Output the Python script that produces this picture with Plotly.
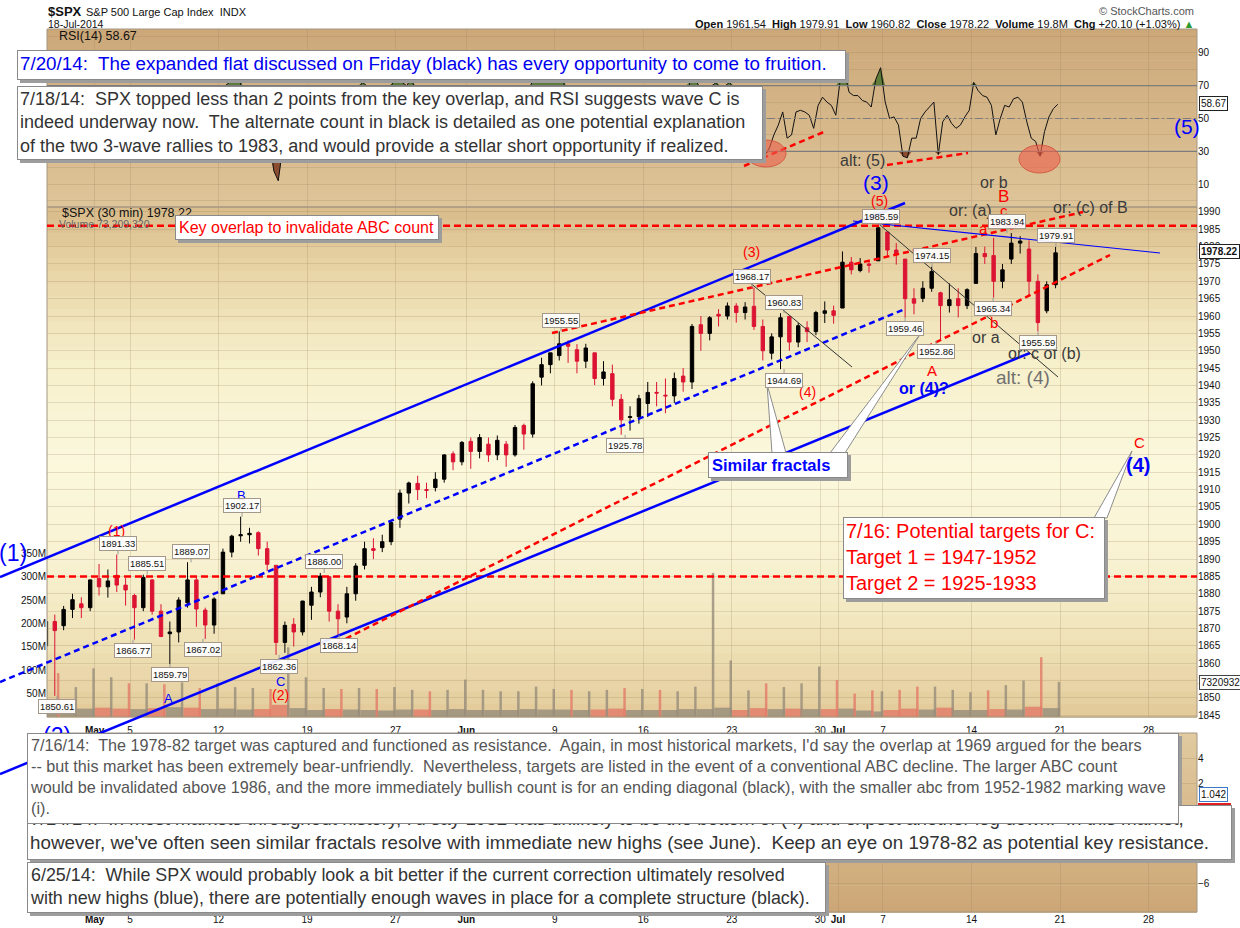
import plotly.graph_objects as go

FONT = "Liberation Sans, Arial, sans-serif"
BLUE = "#0000ff"
RED = "#ff0000"
UP = "#000000"
DOWN = "#dc1433"
GRID = "rgba(150,125,85,0.22)"

# trading sessions on the chart (2014); Jul 3 was a half session
days = ["04-28", "04-29", "04-30", "05-01", "05-02",
        "05-05", "05-06", "05-07", "05-08", "05-09",
        "05-12", "05-13", "05-14", "05-15", "05-16",
        "05-19", "05-20", "05-21", "05-22", "05-23",
        "05-27", "05-28", "05-29", "05-30",
        "06-02", "06-03", "06-04", "06-05", "06-06",
        "06-09", "06-10", "06-11", "06-12", "06-13",
        "06-16", "06-17", "06-18", "06-19", "06-20",
        "06-23", "06-24", "06-25", "06-26", "06-27",
        "06-30", "07-01", "07-02", "07-03",
        "07-07", "07-08", "07-09", "07-10", "07-11",
        "07-14", "07-15", "07-16", "07-17", "07-18"]
future_days = ["07-21", "07-22", "07-23", "07-24", "07-25",
               "07-28", "07-29", "07-30", "07-31"]
half_days = ["07-03"]

tick_days = ["05-01", "05-05", "05-12", "05-19", "05-27", "06-02", "06-09", "06-16",
             "06-23", "06-30", "07-01", "07-07", "07-14", "07-21", "07-28"]
tick_text = ["<b>May</b>", "5", "12", "19", "27", "<b>Jun</b>", "9", "16",
             "23", "30", "<b>Jul</b>", "7", "14", "21", "28"]

# SPX, two bars per session (morning / afternoon), one bar on Jul 3
bar_open = [1865.0, 1872.0, 1870.8, 1875.5, 1877.1, 1876.0, 1884.4, 1882.0, 1885.3, 1882.5,
            1879.5, 1876.0, 1884.0, 1875.0, 1868.5, 1869.0, 1877.4, 1884.0, 1875.3, 1871.0,
            1880.0, 1892.0, 1896.7, 1897.0, 1897.6, 1893.0, 1888.2, 1866.0, 1871.2, 1869.0,
            1876.7, 1880.5, 1884.9, 1875.0, 1873.3, 1880.0, 1888.2, 1893.0, 1893.3, 1895.0,
            1901.5, 1909.0, 1911.8, 1910.0, 1910.6, 1913.0, 1920.3, 1918.0,
            1923.9, 1921.0, 1923.1, 1920.0, 1923.1, 1920.0, 1928.5, 1926.0, 1942.4, 1946.0,
            1948.6, 1952.0, 1950.3, 1947.0, 1949.4, 1942.0, 1943.4, 1936.0, 1930.8, 1931.0,
            1934.8, 1938.0, 1937.2, 1937.0, 1942.7, 1941.0, 1957.5, 1955.0, 1960.5, 1960.0,
            1962.9, 1961.0, 1962.8, 1957.0, 1949.3, 1954.0, 1959.9, 1952.5, 1956.6, 1955.5,
            1960.8, 1961.5, 1962.3, 1975.5, 1973.1, 1975.0, 1975.9,
            1984.2, 1979.0, 1976.4, 1965.0, 1965.1, 1968.0, 1966.7, 1963.0, 1965.0, 1963.0,
            1969.4, 1978.0, 1977.4, 1970.0, 1976.4, 1981.0, 1979.3, 1970.0, 1961.5, 1969.0]
bar_high = [1877.0, 1874.0, 1876.5, 1880.0, 1879.0, 1884.1, 1888.6, 1887.0, 1891.3, 1884.5,
            1880.0, 1885.5, 1884.2, 1877.0, 1872.0, 1879.0, 1889.1, 1885.0, 1876.0, 1879.0,
            1893.0, 1897.0, 1902.2, 1899.0, 1898.0, 1895.0, 1888.2, 1872.0, 1873.0, 1878.0,
            1882.0, 1886.0, 1885.0, 1877.0, 1882.0, 1888.8, 1895.0, 1896.0, 1897.0, 1901.3,
            1910.0, 1912.3, 1914.0, 1912.0, 1915.0, 1920.2, 1921.0, 1924.0,
            1925.0, 1926.0, 1925.0, 1925.6, 1924.0, 1928.6, 1929.0, 1941.2, 1948.0, 1949.4,
            1955.6, 1953.0, 1951.9, 1952.0, 1949.4, 1947.0, 1946.0, 1937.5, 1934.0, 1937.3,
            1941.0, 1941.0, 1942.0, 1943.7, 1945.0, 1957.7, 1960.0, 1960.0, 1962.0, 1963.9,
            1963.7, 1964.0, 1968.2, 1959.0, 1955.0, 1960.8, 1959.9, 1958.0, 1958.5, 1961.5,
            1964.2, 1963.0, 1978.6, 1977.0, 1976.7, 1976.0, 1985.6,
            1984.2, 1981.0, 1976.4, 1968.0, 1970.0, 1974.2, 1967.0, 1969.4, 1968.0, 1968.0,
            1979.9, 1980.0, 1982.5, 1975.0, 1983.9, 1983.0, 1981.8, 1972.0, 1970.0, 1979.9]
bar_low = [1864.5, 1850.6, 1869.5, 1873.0, 1873.0, 1875.0, 1879.5, 1878.9, 1880.5, 1876.6,
           1866.8, 1875.0, 1874.0, 1867.5, 1859.8, 1866.0, 1876.0, 1870.5, 1867.0, 1868.5,
           1880.0, 1890.5, 1895.0, 1894.5, 1891.0, 1886.5, 1862.4, 1863.0, 1864.8, 1868.0,
           1872.5, 1879.0, 1872.0, 1868.1, 1871.5, 1878.0, 1887.0, 1890.0, 1892.0, 1894.0,
           1899.0, 1906.0, 1907.0, 1907.5, 1909.5, 1912.0, 1915.6, 1917.0,
           1916.0, 1919.0, 1918.0, 1918.5, 1916.6, 1919.5, 1921.5, 1925.0, 1940.0, 1943.5,
           1947.2, 1946.5, 1943.5, 1945.0, 1940.1, 1940.0, 1934.0, 1925.8, 1927.0, 1929.0,
           1930.9, 1934.0, 1932.0, 1935.0, 1938.2, 1939.0, 1950.0, 1953.0, 1957.0, 1959.0,
           1958.1, 1959.0, 1956.0, 1947.2, 1947.5, 1944.7, 1950.0, 1951.0, 1952.5, 1954.5,
           1958.0, 1957.8, 1962.3, 1972.0, 1972.6, 1972.5, 1975.9,
           1977.0, 1974.8, 1959.5, 1960.5, 1964.0, 1967.0, 1952.9, 1961.0, 1959.6, 1962.0,
           1969.4, 1975.0, 1965.3, 1968.0, 1975.0, 1978.0, 1966.0, 1955.6, 1960.8, 1968.0]
bar_close = [1872.0, 1869.4, 1875.5, 1878.3, 1876.0, 1884.0, 1882.0, 1883.7, 1882.5, 1881.1,
             1876.0, 1884.7, 1875.0, 1867.7, 1869.0, 1878.2, 1884.0, 1875.6, 1871.0, 1878.5,
             1892.0, 1896.6, 1897.0, 1897.4, 1893.0, 1888.5, 1866.0, 1870.9, 1869.0, 1877.9,
             1880.5, 1885.1, 1875.0, 1872.8, 1880.0, 1888.0, 1893.0, 1892.5, 1895.0, 1900.5,
             1909.0, 1911.9, 1910.0, 1909.8, 1913.0, 1920.0, 1918.0, 1923.6,
             1921.0, 1925.0, 1920.0, 1924.2, 1920.0, 1927.9, 1926.0, 1940.5, 1946.0, 1949.4,
             1952.0, 1951.3, 1947.0, 1950.8, 1942.0, 1943.9, 1936.0, 1930.1, 1931.0, 1936.2,
             1938.0, 1937.8, 1937.0, 1942.0, 1941.0, 1957.0, 1955.0, 1959.5, 1960.0, 1962.9,
             1961.0, 1962.6, 1957.0, 1950.0, 1954.0, 1959.5, 1952.5, 1957.2, 1955.5, 1961.0,
             1961.5, 1960.2, 1975.5, 1973.3, 1975.0, 1974.6, 1985.4,
             1979.0, 1977.7, 1965.0, 1963.7, 1968.0, 1972.8, 1963.0, 1964.7, 1963.0, 1967.6,
             1978.0, 1977.1, 1970.0, 1973.3, 1981.0, 1981.6, 1970.0, 1958.1, 1969.0, 1978.2]

# volume (millions): closing 30-min spike and the usual level of the session
vol_spike = [94, 64, 104, 85, 72, 72, 70, 74, 62, 72, 64, 62, 60, 149, 85,
             62, 60, 62, 60, 64, 58, 55, 58, 80, 58, 55, 55, 65, 60,
             58, 55, 58, 62, 60, 58, 55, 65, 308, 121, 57, 72, 64, 72, 108,
             79, 50, 57, 55, 58, 65, 65, 58, 53, 57, 68, 78, 128, 75]
vol_base = [25, 18, 18, 20, 18, 17, 19, 21, 20, 17, 18, 16, 17, 26, 19,
            15, 17, 16, 15, 14, 16, 16, 15, 17, 15, 15, 15, 17, 16,
            16, 15, 16, 18, 15, 15, 15, 17, 17, 20, 15, 19, 17, 18, 17,
            17, 18, 14, 12, 15, 18, 16, 20, 15, 15, 17, 16, 22, 19]

# RSI(14), four readings per session (two on Jul 3)
rsi = [[58, 52, 30, 45], [52, 55, 58, 60], [56, 54, 60, 64], [62, 58, 56, 60], [66, 55, 50, 52],
       [40, 50, 58, 62], [58, 50, 42, 38], [34, 42, 48, 56], [64, 58, 50, 46], [40, 44, 50, 54],
       [66, 70, 72, 74], [76, 66, 62, 62], [60, 54, 50, 38], [18, 12, 32, 40], [40, 46, 52, 58],
       [58, 64, 66, 68], [60, 50, 40, 44], [48, 56, 62, 68], [72, 70, 66, 64], [66, 64, 68, 72],
       [76, 72, 70, 74], [68, 60, 58, 56], [60, 62, 66, 68], [64, 60, 66, 68],
       [62, 52, 58, 64], [56, 48, 56, 62], [56, 48, 60, 66], [62, 52, 70, 76], [78, 74, 72, 75],
       [74, 78, 66, 64], [56, 50, 54, 58], [46, 42, 46, 48], [44, 36, 32, 30], [38, 44, 50, 56],
       [52, 56, 58, 56], [52, 50, 58, 62], [58, 56, 72, 76], [70, 62, 66, 70], [72, 66, 70, 72],
       [68, 62, 64, 66], [68, 52, 38, 28], [32, 40, 46, 54], [38, 40, 54, 55], [54, 52, 44, 58],
       [63, 60, 58, 52], [74, 78, 66, 64], [64, 61, 60, 57], [74, 81],
       [60, 50, 51, 46], [27, 26, 38, 38], [50, 54, 57, 60], [28, 48, 52, 47], [44, 46, 51, 55],
       [72, 67, 64, 63], [58, 40, 50, 58], [57, 62, 63, 60], [48, 38, 36, 27], [42, 51, 56, 58.67]]

# labelled turning points: (session, fraction of session), price, high/low
pivot_when = [("04-28", 0.88), ("05-02", 0.32), ("05-05", 0.17), ("05-05", 0.97), ("05-07", 0.26),
              ("05-08", 0.45), ("05-09", 0.12), ("05-13", 0.33), ("05-15", 0.42), ("05-19", 0.97),
              ("05-20", 0.81), ("06-09", 0.35), ("06-12", 0.97), ("06-24", 0.14), ("06-25", 0.95),
              ("06-25", 0.95), ("07-03", 0.8), ("07-08", 0.25), ("07-09", 0.77), ("07-10", 0.0),
              ("07-15", 0.22), ("07-16", 0.0), ("07-17", 0.76), ("07-18", 0.77)]
pivot_price = [1850.61, 1891.33, 1866.77, 1885.51, 1859.79, 1889.07, 1867.02, 1902.17, 1862.36,
               1886.00, 1868.14, 1955.55, 1925.78, 1968.17, 1960.83, 1944.69, 1985.59, 1959.46,
               1974.15, 1952.86, 1965.34, 1983.94, 1955.59, 1979.91]
pivot_kind = ["L", "H", "L", "H", "L", "H", "L", "H", "L", "H", "L", "H", "L", "H", "H", "L",
              "H", "L", "H", "L", "L", "H", "L", "H"]

# ---------------------------------------------------------------- x scale
session_len = {d: (0.54 if d in half_days else 1.0) for d in days + future_days}
day_start = {}
t = 0.0
for d in days + future_days:
    day_start[d] = t
    t += session_len[d]

bar_x = []
for d in days:
    if d in half_days:
        bar_x.append(day_start[d] + session_len[d] / 2)
    else:
        bar_x += [day_start[d] + 0.25, day_start[d] + 0.75]

rsi_x, rsi_y = [], []
for d, vals in zip(days, rsi):
    for i, v in enumerate(vals):
        rsi_x.append(day_start[d] + session_len[d] * (i + 0.5) / len(vals))
        rsi_y.append(v)

day_up, last_up = [], []
i = 0
for d in days:
    n = 1 if d in half_days else 2
    day_up.append(bar_close[i + n - 1] >= bar_open[i])
    last_up.append(bar_close[i + n - 1] >= bar_open[i + n - 1])
    i += n

tick_x = [day_start[d] for d in tick_days]
X_RANGE = [0.31, 65.28]

# pixel frame of the plotting area (1240 x 928 page)
L, R, T, B = 47, 1197, 29, 912


def px(x):
    return (x - L) / (R - L)


def py(y):
    return (B - y) / (B - T)


fig = go.Figure()

# volume (under the price bars)
vol_red = "rgba(226,122,104,0.8)"
vol_gray = "rgba(150,140,122,0.8)"
fig.add_trace(go.Bar(
    x=[day_start[d] + session_len[d] / 2 for d in days],
    y=[v * 1e6 for v in vol_base], width=[session_len[d] * 0.98 for d in days],
    marker=dict(color=[vol_gray if u else vol_red for u in day_up], line=dict(width=0)),
    xaxis="x2", yaxis="y2", hoverinfo="skip"))
fig.add_trace(go.Bar(
    x=[day_start[d] + session_len[d] - 0.06 for d in days],
    y=[v * 1e6 for v in vol_spike], width=0.14,
    marker=dict(color=[vol_gray if u else vol_red for u in last_up], line=dict(width=0)),
    xaxis="x2", yaxis="y2", hoverinfo="skip"))

fig.add_trace(go.Candlestick(
    x=bar_x, open=bar_open, high=bar_high, low=bar_low, close=bar_close,
    increasing=dict(line=dict(color=UP, width=1), fillcolor=UP),
    decreasing=dict(line=dict(color=DOWN, width=1), fillcolor=DOWN),
    whiskerwidth=0, xaxis="x2", yaxis="y4", hoverinfo="skip"))

# RSI with fills beyond 70 / 30
fig.add_trace(go.Scatter(x=rsi_x, y=[70] * len(rsi_x), mode="lines", line=dict(width=0),
                         xaxis="x", yaxis="y", hoverinfo="skip"))
fig.add_trace(go.Scatter(x=rsi_x, y=[max(v, 70) for v in rsi_y], mode="lines", line=dict(width=0),
                         fill="tonexty", fillcolor="rgb(96,124,58)", xaxis="x", yaxis="y", hoverinfo="skip"))
fig.add_trace(go.Scatter(x=rsi_x, y=[30] * len(rsi_x), mode="lines", line=dict(width=0),
                         xaxis="x", yaxis="y", hoverinfo="skip"))
fig.add_trace(go.Scatter(x=rsi_x, y=[min(v, 30) for v in rsi_y], mode="lines", line=dict(width=0),
                         fill="tonexty", fillcolor="rgb(140,76,48)", xaxis="x", yaxis="y", hoverinfo="skip"))
fig.add_trace(go.Scatter(x=rsi_x, y=rsi_y, mode="lines", line=dict(color="#111111", width=1),
                         xaxis="x", yaxis="y", hoverinfo="skip"))

# empty lower indicator pane
fig.add_trace(go.Scatter(x=[X_RANGE[0]], y=[None], mode="markers", xaxis="x3", yaxis="y3",
                         hoverinfo="skip"))

shapes = []
annotations = []


def mix(stops, f):
    for (f0, c0), (f1, c1) in zip(stops, stops[1:]):
        if f <= f1:
            k = (f - f0) / (f1 - f0)
            return "rgb(%d,%d,%d)" % tuple(round(a + (b - a) * k) for a, b in zip(c0, c1))
    return "rgb(%d,%d,%d)" % stops[-1][1]


def gradient(top, bottom, stops, n=40):
    h = (bottom - top) / n
    for k in range(n):
        shapes.append(dict(type="rect", xref="paper", yref="paper", layer="below",
                           x0=0, x1=1, y0=py(top + (k + 1) * h + 0.7), y1=py(top + k * h),
                           fillcolor=mix(stops, (k + 0.5) / n), line=dict(width=0)))


gradient(29, 207, [(0, (204, 168, 121)), (1, (222, 197, 153))])
gradient(207, 717, [(0, (216, 187, 138)), (0.12, (232, 212, 166)), (0.3, (246, 239, 202)),
                    (0.5, (251, 248, 221)), (0.7, (248, 242, 209)), (0.87, (238, 224, 181)),
                    (1, (226, 201, 153))])
gradient(733, 912, [(0, (225, 202, 160)), (1, (204, 166, 117))])

for top, bottom in [(29, 207), (207, 717), (733, 912)]:
    shapes.append(dict(type="rect", xref="paper", yref="paper", x0=0, x1=1, y0=py(bottom), y1=py(top),
                       line=dict(color="#a39682", width=1), fillcolor="rgba(0,0,0,0)"))

# RSI reference levels
for lvl, dash in [(70, None), (30, None), (50, "8px,3px,2px,3px")]:
    shapes.append(dict(type="line", xref="paper", yref="y", x0=0, x1=1, y0=lvl, y1=lvl,
                       line=dict(color="#7c7c7c", width=1.2, dash=dash)))

# key horizontal levels
for lvl in [1986.0, 1885.0]:
    shapes.append(dict(type="line", xref="paper", yref="y4", x0=0, x1=1, y0=lvl, y1=lvl,
                       line=dict(color=RED, width=2.5, dash="7px,4px")))


def seg(x0, y0, x1, y1, color, width, dash=None):
    shapes.append(dict(type="line", xref="paper", yref="paper", x0=px(x0), y0=py(y0),
                       x1=px(x1), y1=py(y1), line=dict(color=color, width=width, dash=dash)))


seg(0, 577, 905, 203, BLUE, 2.5)
seg(0, 774, 1030, 353, BLUE, 2.5)
seg(0, 682, 905, 309, BLUE, 2.5, "6px,4px")
seg(552, 333, 1083, 212, RED, 2.5, "6px,4px")
seg(337, 643, 1110, 255, RED, 2.5, "6px,4px")
seg(737, 272, 852, 367, "#333333", 1)
seg(880, 225, 1058, 377, "#333333", 1)
seg(853, 221, 1160, 253, BLUE, 1.2)
seg(744, 166, 826, 131, RED, 2.5, "6px,4px")
seg(887, 165, 968, 153, RED, 2.5, "6px,4px")

for x0, y0, x1, y1 in [(746, 140, 786, 167), (1019, 145, 1060, 173)]:
    shapes.append(dict(type="circle", xref="paper", yref="paper", x0=px(x0), x1=px(x1),
                       y0=py(y1), y1=py(y0), fillcolor="rgba(236,96,76,0.62)",
                       line=dict(color="rgba(205,70,50,0.7)", width=1)))


def tail(points):
    path = "M " + " L ".join("%f,%f" % (px(a), py(b)) for a, b in points) + " Z"
    shapes.append(dict(type="path", xref="paper", yref="paper", path=path,
                       fillcolor="white", line=dict(color="#8c8c8c", width=1)))


tail([(772, 453), (786, 453), (767, 384)])
tail([(830, 453), (845, 453), (921, 333)])
tail([(1094, 518), (1107, 518), (1132, 451)])


def text(s, x, y, size, color, bold=False, anchor="center"):
    annotations.append(dict(xref="paper", yref="paper", x=px(x), y=py(y), showarrow=False,
                            text="<b>%s</b>" % s if bold else s, xanchor=anchor, yanchor="middle",
                            font=dict(family=FONT, size=size, color=color)))


def box(lines, x0, y0, x1, y1, size, color, bold=False, pad=3):
    shapes.append(dict(type="rect", xref="paper", yref="paper", x0=px(x0 + 3), x1=px(x1 + 3),
                       y0=py(y1 + 3), y1=py(y0 + 3), fillcolor="#9d9d9d", line=dict(width=0)))
    body = "<br>".join(lines)
    annotations.append(dict(xref="paper", yref="paper", x=px(x0), y=py(y0), xanchor="left",
                            yanchor="top", showarrow=False, align="left", valign="top",
                            text="<b>%s</b>" % body if bold else body,
                            width=x1 - x0 - 2 * pad - 2, height=y1 - y0 - 2 * pad - 2,
                            bgcolor="white", bordercolor="#8a8a8a", borderwidth=1, borderpad=pad,
                            font=dict(family=FONT, size=size, color=color)))


DARK = "#3a3a3a"
text("(1)", 116, 531, 14, RED)
text("B", 241, 495, 13, BLUE)
text("A", 168, 698, 13, BLUE)
text("C", 280, 681, 13, BLUE)
text("(2)", 280, 695, 14, RED)
text("(1)", 13, 553, 23, BLUE)
text("(2)", 57, 736, 23, BLUE)
text("(3)", 751, 252, 14, RED)
text("(4)", 807, 392, 14, RED)
text("(5)", 879, 201, 14, RED)
text("(3)", 876, 182, 21, BLUE)
text("alt: (5)", 862, 160, 16, DARK)
text("(5)", 1187, 127, 21, BLUE)
text("A", 932, 370, 15, RED)
text("or (4)?", 924, 388, 16, BLUE, bold=True)
text("alt: (4)", 1023, 377, 19, "#707070")
text("or: c of (b)", 1044, 353, 16, DARK)
text("or a", 986, 337, 16, DARK)
text("b", 994, 322, 15, RED)
text("or b", 994, 182, 16, DARK)
text("B", 1004, 197, 17, RED)
text("c", 1004, 210, 15, RED)
text("or: (a)", 970, 210, 16, DARK)
text("a", 983, 228, 15, RED)
text("or: (c) of B", 1090, 207, 16, DARK)
text("C", 1139, 442, 15, RED)
text("(4)", 1138, 465, 20, BLUE, bold=True)

# header
text("<b>$SPX</b>", 46, 11, 13, "#111111", anchor="left")
text("S&amp;P 500 Large Cap Index  INDX", 84, 12, 11, "#111111", anchor="left")
text("18-Jul-2014", 46, 24, 10.5, "#111111", anchor="left")
text("\u00a9 StockCharts.com", 1196, 11, 11, "#555555", anchor="right")
text("<b>Open</b> 1961.54  <b>High</b> 1979.91  <b>Low</b> 1960.82  <b>Close</b> 1978.22  "
     "<b>Volume</b> 19.8M  <b>Chg</b> +20.10 (+1.03%) <span style='color:#2f9a2f'>\u25b2</span>",
     1196, 24, 11, "#111111", anchor="right")
text("RSI(14) 58.67", 57, 36, 12.5, "#111111", anchor="left")
text("$SPX (30 min) 1978.22", 60, 213, 12.5, "#111111", anchor="left")
text("Volume 73,209,320", 57, 224, 10.5, "#666666", anchor="left")

# right-hand value tags
for s, y, border, bold in [("58.67", 104, "#222222", False), ("1978.22", 252, "#222222", True),
                           ("7320932", 682, "#444444", False), ("1.042", 794, "#3c78c8", False)]:
    annotations.append(dict(xref="paper", yref="paper", x=px(1199), y=py(y), xanchor="left",
                            yanchor="middle", showarrow=False, text="<b>%s</b>" % s if bold else s,
                            bgcolor="white", bordercolor=border, borderwidth=1, borderpad=1,
                            font=dict(family=FONT, size=10, color="#111111")))
shapes.append(dict(type="rect", xref="paper", yref="paper", x0=px(1198), x1=px(1231),
                   y0=py(808), y1=py(803), fillcolor="#e02020", line=dict(width=0)))

# pivot price labels
for (d, f), p, kind in zip(pivot_when, pivot_price, pivot_kind):
    annotations.append(dict(xref="x2", yref="y4", x=day_start[d] + f * session_len[d], y=p,
                            text="%.2f" % p, showarrow=True, arrowhead=0, arrowwidth=1,
                            arrowcolor="#9a9a9a", ax=0, ay=-11 if kind == "H" else 11,
                            bgcolor="rgba(255,255,255,0.92)", bordercolor="#a3988a",
                            borderwidth=1, borderpad=1,
                            font=dict(family=FONT, size=9.5, color="#111111")))

# commentary boxes
box(["Key overlap to invalidate ABC count"], 175, 215, 439, 240, 16, RED)
box(["Similar fractals"], 708, 452, 848, 478, 16.5, BLUE, bold=True)
box(["7/16: Potential targets for C:", "Target 1 = 1947-1952", "Target 2 = 1925-1933"],
    843, 517, 1105, 599, 20, RED, pad=2)
box(["7/20/14:\u00a0 The expanded flat discussed on Friday (black) has every opportunity to come to fruition."],
    17, 50, 846, 80, 18.8, "#0000ee", pad=2)
box(["7/18/14:\u00a0 SPX topped less than 2 points from the key overlap, and RSI suggests wave C is",
     "indeed underway now.\u00a0 The alternate count in black is detailed as one potential explanation",
     "of the two 3-wave rallies to 1983, and would provide a stellar short opportunity if realized."],
    17, 86, 763, 160, 18, "#333333", pad=2)
box(["6/25/14:\u00a0 While SPX would probably look a bit better if the current correction ultimately resolved",
     "with new highs (blue), there are potentially enough waves in place for a complete structure (black)."],
    27, 862, 826, 913, 17.9, "#333333", pad=2)
box(["7/14/14:\u00a0 In most markets throughout history, I'd say 1952 was unlikely to be the bottom of (4) "
     "and expect another leg down.\u00a0 In this market,",
     "however, we've often seen similar fractals resolve with immediate new highs (see June).\u00a0 "
     "Keep an eye on 1978-82 as potential key resistance."],
    27, 805, 1232, 860, 18.8, "#333333", pad=2)
box(["7/16/14:\u00a0 The 1978-82 target was captured and functioned as resistance.\u00a0 Again, in most "
     "historical markets, I'd say the overlap at 1969 argued for the bears",
     "-- but this market has been extremely bear-unfriendly.\u00a0 Nevertheless, targets are listed in "
     "the event of a conventional ABC decline. The larger ABC count",
     "would be invalidated above 1986, and the more immediately bullish count is for an ending "
     "diagonal (black), with the smaller abc from 1952-1982 marking wave",
     "(i)."],
    27, 733, 1179, 824, 16.2, "#555555", pad=2)

tickfont = dict(family=FONT, size=10, color="#111111")
xcommon = dict(range=X_RANGE, tickvals=tick_x, ticktext=tick_text, showgrid=True, gridcolor=GRID,
               zeroline=False, showline=False, ticks="", tickfont=tickfont, fixedrange=True,
               automargin=False)
ycommon = dict(showgrid=True, gridcolor=GRID, zeroline=False, ticks="", tickfont=tickfont,
               automargin=False, fixedrange=True)

fig.update_layout(
    width=1240, height=928,
    margin=dict(l=L, r=1240 - R, t=T, b=928 - B, autoexpand=False),
    paper_bgcolor="white", plot_bgcolor="rgba(0,0,0,0)",
    showlegend=False, barmode="overlay", hovermode=False, boxgap=0.45,
    xaxis=dict(xcommon, anchor="y", showticklabels=False),
    xaxis2=dict(xcommon, anchor="y2", showticklabels=True, rangeslider=dict(visible=False),
                ticklabelstandoff=6),
    xaxis3=dict(xcommon, anchor="y3", showticklabels=True),
    yaxis=dict(ycommon, domain=[0.7984, 1.0], range=[-4, 104.6], side="right", anchor="x",
               tickvals=list(range(0, 101, 10)),
               ticktext=["", "10", "", "30", "", "50", "", "70", "", "90", ""]),
    yaxis2=dict(ycommon, domain=[0.2208, 0.7984], range=[0, 1.09e9], side="left", anchor="x2",
                tickvals=[50e6, 100e6, 150e6, 200e6, 250e6, 300e6, 350e6],
                ticktext=["50M", "100M", "150M", "200M", "250M", "300M", "350M"],
                showgrid=False),
    yaxis4=dict(ycommon, overlaying="y2", anchor="x2", side="right", range=[1844.5, 1991.4],
                tick0=1850, dtick=5),
    yaxis3=dict(ycommon, domain=[0, 0.2027], range=[-8.3, 6.0], side="right", anchor="x3",
                tickvals=[-6, -4, -2, 0, 2, 4]),
    shapes=shapes,
    annotations=annotations,
)

# the page's default body margin would push the fixed-size figure off its frame
fig.write_html("out.html", config={"displayModeBar": False},
               post_script="document.body.style.margin = '0px';")
